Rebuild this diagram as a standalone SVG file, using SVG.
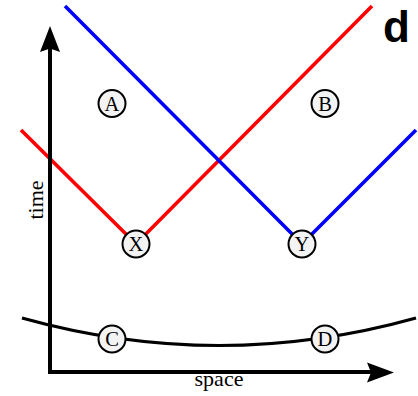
<svg xmlns="http://www.w3.org/2000/svg" width="418" height="396" viewBox="0 0 418 396">
<style>
.ray{fill:none;stroke-width:3.6;stroke-linecap:butt}
.red{stroke:#ff0000}
.blue{stroke:#0000ff}
.axis{fill:none;stroke:#000;stroke-width:4}
.node circle{fill:#f3f3f3;stroke:#000;stroke-width:2}
.node text{font-family:"Liberation Serif","DejaVu Serif",serif;font-size:20.5px;text-anchor:middle;fill:#000}
.lbl{font-family:"Liberation Serif","DejaVu Serif",serif;font-size:22px;text-anchor:middle;fill:#000}
</style>
<rect width="418" height="396" fill="#fff"/>
<g id="connectors">
<polyline class="ray red" points="21,130 136,244 372,6"/>
<polyline class="ray blue" points="65,6 302,244 416,130"/>
<path d="M22,318 Q219,373 416,318" fill="none" stroke="#000" stroke-width="3.2"/>
</g>
<g id="axes">
<line class="axis" x1="50" y1="372" x2="50" y2="46"/>
<line class="axis" x1="48" y1="372" x2="374" y2="372"/>
<path d="M50,26 L60,52 L50,48.5 L40,52 Z" fill="#000"/>
<path d="M394,372.5 L367,382.5 L371,372.5 L367,362.5 Z" fill="#000"/>
<text class="lbl" x="219" y="386">space</text>
<text class="lbl" transform="translate(43,200) rotate(-90)">time</text>
</g>
<g id="A" class="node"><circle cx="112" cy="103.5" r="13.5"/><text x="112" y="110.8">A</text></g>
<g id="B" class="node"><circle cx="325" cy="103.5" r="13.5"/><text x="325" y="110.8">B</text></g>
<g id="X" class="node"><circle cx="136" cy="244" r="13.5"/><text x="136" y="251.3">X</text></g>
<g id="Y" class="node"><circle cx="302" cy="244" r="13.5"/><text x="302" y="251.3">Y</text></g>
<g id="C" class="node"><circle cx="112" cy="339" r="13.5"/><text x="112" y="346.3">C</text></g>
<g id="D" class="node"><circle cx="325" cy="339" r="13.5"/><text x="325" y="346.3">D</text></g>
<text x="383" y="42" font-family="'Liberation Sans',Arial,sans-serif" font-weight="bold" font-size="44">d</text>
</svg>
